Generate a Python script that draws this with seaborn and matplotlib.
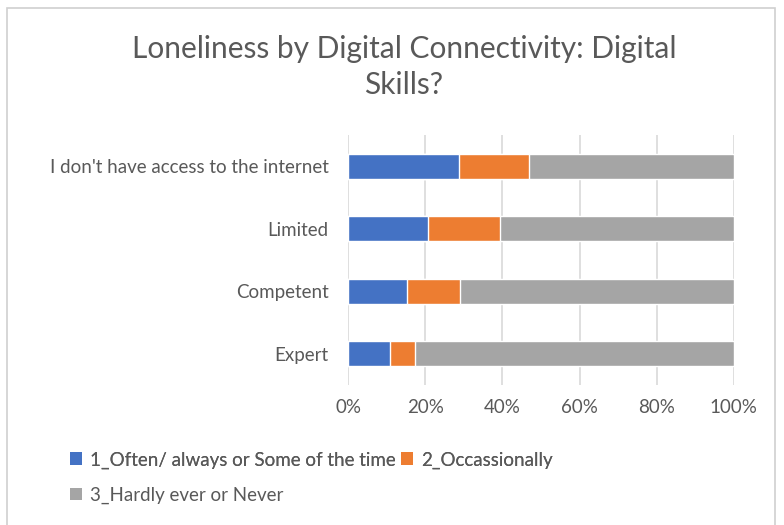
import matplotlib
matplotlib.use("Agg")
import numpy as np
import pandas as pd
import seaborn as sns
from matplotlib import pyplot as plt
from matplotlib.patches import Patch, Rectangle

categories = ["I don't have access to the internet", "Limited", "Competent", "Expert"]
often = [28.7, 20.8, 15.2, 10.8]
occasionally = [18.2, 18.5, 13.8, 6.6]
hardly = [53.1, 60.7, 71.0, 82.6]
series_names = ["1_Often/ always or Some of the time", "2_Occassionally", "3_Hardly ever or Never"]
colors = ["#4472C4", "#ED7D31", "#A5A5A5"]

sns.set_theme(style="white")
plt.rcParams['font.family'] = ['Lato', 'DejaVu Sans']
text_col = "#595959"

df = pd.DataFrame({"cat": categories, "a": often, "b": occasionally, "c": hardly})
df["cum_a"] = df["a"]
df["cum_b"] = df["a"] + df["b"]
df["cum_c"] = df["cum_b"] + df["c"]

fig = plt.figure(figsize=(7.84, 5.25), dpi=100)
ax = fig.add_axes([0.444, 0.267, 0.492, 0.476])

# draw stacked bars back-to-front using cumulative totals
for col, c in zip(["cum_c", "cum_b", "cum_a"], colors[::-1]):
    sns.barplot(data=df, x=col, y="cat", color=c, orient="h", width=0.4,
                saturation=1, ax=ax, zorder=3)

ax.set_xlim(0, 100)
ax.set_xticks(np.arange(0, 101, 20))
ax.set_xticklabels([f"{v}%" for v in range(0, 101, 20)])
ax.xaxis.grid(True, color="#D9D9D9", linewidth=1.2, zorder=0)
ax.set_axisbelow(True)
ax.set_xlabel("")
ax.set_ylabel("")
for s in ["top", "right", "bottom", "left"]:
    ax.spines[s].set_visible(False)
ax.tick_params(axis="both", length=0, labelsize=13.5, labelcolor=text_col)
ax.tick_params(axis="x", pad=10)
ax.tick_params(axis="y", pad=14)

fig.text(0.515, 0.872, "Loneliness by Digital Connectivity: Digital\nSkills?",
         ha="center", va="center", fontsize=21.5, color=text_col, linespacing=1.35)

handles = [Patch(facecolor=c, edgecolor="none") for c in colors]
leg1 = fig.legend(handles[:2], series_names[:2], loc="center left",
                  bbox_to_anchor=(0.068, 0.124), ncol=2, frameon=False,
                  fontsize=13.5, handlelength=0.65, handleheight=0.65,
                  handletextpad=0.4, columnspacing=0.3, labelcolor=text_col)
fig.legend(handles[2:], series_names[2:], loc="center left",
           bbox_to_anchor=(0.068, 0.057), frameon=False,
           fontsize=13.5, handlelength=0.65, handleheight=0.65,
           handletextpad=0.4, labelcolor=text_col)
fig.add_artist(leg1)

# chart frame
fig.patches.append(Rectangle((0.009, -0.02), 0.98, 1.005, transform=fig.transFigure,
                             fill=False, edgecolor="#D0D0D0", linewidth=1.2))

fig.savefig("out.png", dpi=100)
